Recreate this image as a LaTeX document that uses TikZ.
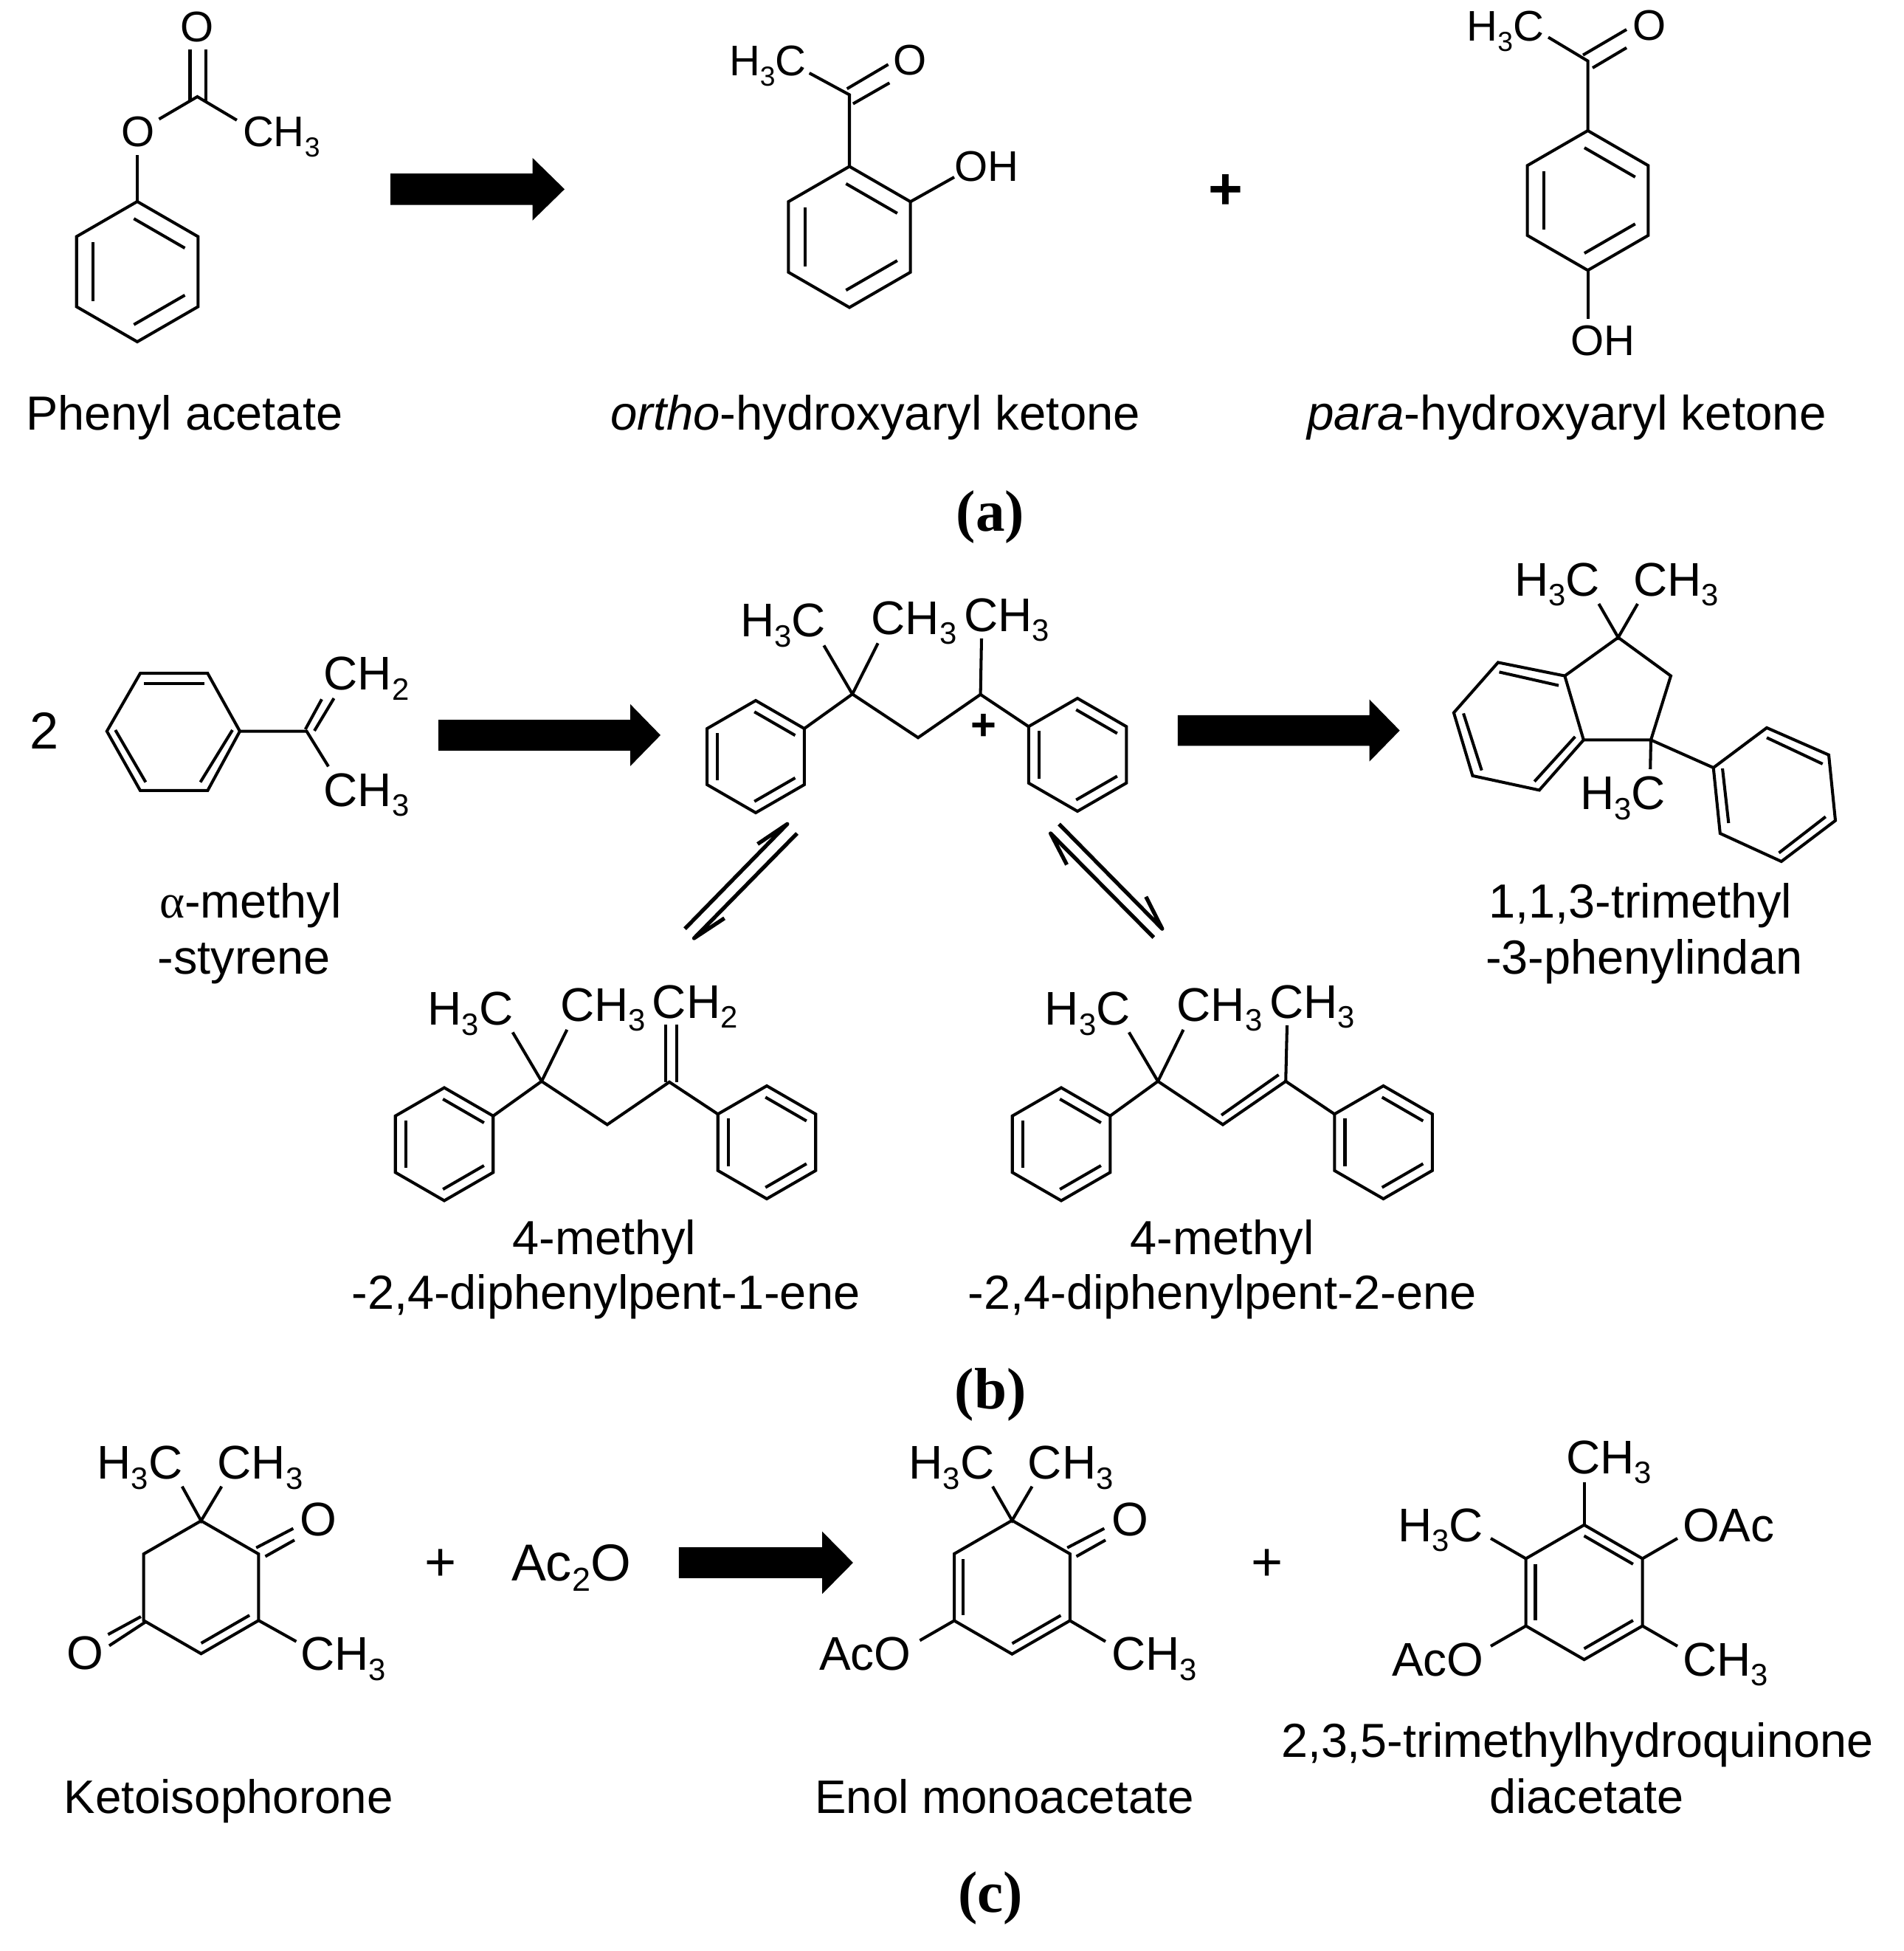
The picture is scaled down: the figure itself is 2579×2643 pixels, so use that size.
\documentclass[tikz,border=0pt]{standalone}
\usepackage{fontspec}
\setmainfont{Liberation Sans}
\newfontfamily\panelfont{Liberation Serif}
\usetikzlibrary{calc}

\tikzset{
  atoma/.style={anchor=base west, inner sep=0pt, xshift=-.05cm, font=\def\sbsize{10.6}\fontsize{16.5}{18}\selectfont},
  atomb/.style={anchor=base west, inner sep=0pt, xshift=-.06cm, font=\def\sbsize{11.9}\fontsize{18.2}{20}\selectfont},
  oxya/.style={inner sep=0pt, font=\fontsize{16.5}{18}\selectfont},
  oxyc/.style={inner sep=0pt, font=\fontsize{18.2}{20}\selectfont},
  caption/.style={anchor=base west, inner sep=0pt, xshift=-.04cm, font=\def\sbsize{12.8}\fontsize{18.45}{21}\selectfont},
  panel/.style={anchor=base, inner sep=0pt, font=\panelfont\bfseries\fontsize{22.5}{24}\selectfont},
  plusa/.style={inner sep=0pt, font=\bfseries\fontsize{22.8}{25}\selectfont},
  plusc/.style={inner sep=0pt, font=\fontsize{21}{24}\selectfont},
  eqm/.style={line width=1.5pt, line join=round}
}

% subscript of a group
\newcommand{\sbs}[1]{\raisebox{-3.9pt}{\fontsize{\sbsize}{\sbsize}\selectfont #1}}

% regular hexagon: name, centre x, y, radius, inner line distance, inner lines
\newcommand{\ringsix}[6]{
  \coordinate (#1) at (#2,#3);
  \foreach \k in {1,...,6} \coordinate (#1\k) at ($(#1)+({-150+60*\k}:#4)$);
  \draw (#11)--(#12)--(#13)--(#14)--(#15)--(#16)--cycle;
  \foreach \m in {#6}
    \draw ($(#1)+(\m:#5*#4)+(\m+90:.42*#4)$)--($(#1)+(\m:#5*#4)+(\m-90:.42*#4)$);
}

% block arrow: start x, middle y, head x, tip x, half shaft, half head
\newcommand{\fatarrow}[6]{
  \fill (#1,#2-#5)--(#3,#2-#5)--(#3,#2-#6)--(#4,#2)--(#3,#2+#6)--(#3,#2+#5)--(#1,#2+#5)--cycle;
}

\begin{document}
\begin{tikzpicture}[x=.01cm, y=-.01cm, line width=1.15pt]
\useasboundingbox (0,0) rectangle (2579,2643);

% (a) phenyl acetate
\ringsix{ph}{186}{368}{95}{.63}{-60,60,180}
\node[oxya] (phO) at (186.8,178.4) {O};
\node[oxya] (phOd) at (267.4,36.8) {O};
\node[atoma] (phMe) at (332,199) {CH\sbs{3}};
\foreach \n/\x/\y in {phA/186/210, phB/215.5/161.4, phC/267.4/131, phD/320.9/162.8,
  phE/257.5/67, phF/257.5/138, phG/278.9/67, phH/278.9/138}
  \coordinate (\n) at (\x,\y);
\draw (ph1)--(phA);
\draw (phB)--(phC)--(phD);
\draw (phE)--(phF);
\draw (phG)--(phH);
\node[caption] (phName) at (37,582.8) {Phenyl acetate};

\fatarrow{529}{256.3}{721.5}{765}{21.25}{42.5}

% ortho product
\ringsix{or}{1151}{321}{95.5}{.63}{-60,60,180}
\node[atoma] (orMe) at (991,103) {H\sbs{3}C};
\node[oxya] (orOd) at (1233,81.6) {O};
\node[atoma] (orOH) at (1296.6,246) {OH};
\foreach \n/\x/\y in {orC/1151/128.4, orA/1096.7/99, orB/1147.7/120.3, orD/1203.6/87.3,
  orE/1155.9/140.6, orF/1205.3/112.3, orG/1293/240}
  \coordinate (\n) at (\x,\y);
\draw (or1)--(orC)--(orA);
\draw (orB)--(orD);
\draw (orE)--(orF);
\draw (or2)--(orG);
\node[caption, font=\fontsize{18.55}{21}\selectfont] (orName) at (829,582.8) {\textit{ortho}-hydroxyaryl ketone};

\node[plusa] (plusA) at (1660.8,260) {+};

% para product
\ringsix{pa}{2151.5}{271.6}{94.6}{.63}{-60,60,180}
\node[atoma] (paMe) at (1990.4,55.7) {H\sbs{3}C};
\node[oxya] (paOd) at (2234.6,34.4) {O};
\node[atoma] (paOH) at (2131,481.4) {OH};
\foreach \n/\x/\y in {paC/2151.5/82.6, paA/2098/50.5, paB/2145/74.6, paD/2204/40,
  paE/2158/92, paF/2204/64.7, paG/2151.5/431.8}
  \coordinate (\n) at (\x,\y);
\draw (pa1)--(paC)--(paA);
\draw (paB)--(paD);
\draw (paE)--(paF);
\draw (pa4)--(paG);
\node[caption, font=\fontsize{18.65}{21}\selectfont] (paName) at (1773.4,582.8) {\textit{para}-hydroxyaryl ketone};

\node[panel] (capA) at (1342,719) {(a)};

% (b) alpha-methylstyrene
\node[caption, font=\fontsize{20}{22}\selectfont] (two) at (42,1014) {2};
\foreach \n/\x/\y in {msA/190/912.2, msB/281.4/912.2, msC/325/990.6, msD/281.4/1070.9,
  msE/190/1070.9, msF/144.8/990.6, msG/195/925.6, msH/277.3/925.6, msI/315/989,
  msJ/271.5/1059.6, msK/156.3/989, msL/197.4/1059.6, msM/415.5/990.6, msN/413.8/988,
  msO/436/947.3, msP/426/990, msQ/452.5/946, msR/445/1038.3}
  \coordinate (\n) at (\x,\y);
\draw (msA)--(msB)--(msC)--(msD)--(msE)--(msF)--cycle;
\draw (msG)--(msH);
\draw (msI)--(msJ);
\draw (msK)--(msL);
\draw (msC)--(msM)--(msR);
\draw (msN)--(msO);
\draw (msP)--(msQ);
\node[atomb] (msCH) at (442.6,934.3) {CH\sbs{2}};
\node[atomb] (msMe) at (442.6,1092) {CH\sbs{3}};
\node[caption] (msName) at (218,1243) {{\panelfont α}-methyl};
\node[caption] (msNameb) at (215.5,1319) {-styrene};

\fatarrow{594}{995.9}{854}{895}{20.85}{42}

% cation
\ringsix{ca}{1024}{1025}{76}{.68}{-60,60,180}
\ringsix{cb}{1460}{1022.5}{76.5}{.68}{-60,60,180}
\foreach \n/\x/\y in {caQ/1155/940.3, caR/1116.4/874.4, caS/1189.6/871.4, caT/1244/999.3,
  caU/1328.6/940.8, caV/1330/864.9}
  \coordinate (\n) at (\x,\y);
\draw (ca2)--(caQ)--(caT)--(caU)--(cb6);
\draw (caQ)--(caR);
\draw (caQ)--(caS);
\draw (caU)--(caV);
\node[atomb] (caMe) at (1007,862.7) {H\sbs{3}C};
\node[atomb] (caMeb) at (1184.7,859) {CH\sbs{3}};
\node[atomb] (caMec) at (1310.5,855) {CH\sbs{3}};
\node[inner sep=0pt, font=\bfseries\fontsize{17}{20}\selectfont] (caPlus) at (1332.7,985) {+};

\fatarrow{1595.8}{989.6}{1855.6}{1896.7}{20.8}{42}

% indane
\foreach \n/\x/\y in {inA/2192.7/863.6, inB/2264/915.6, inC/2237/1002.4, inD/2145.8/1002.4,
  inE/2120.3/915.6, inF/2029.9/897.4, inG/1969.9/965.5, inH/1995.4/1050.9, inI/2085.8/1070.4,
  inJ/2031.5/910.4, inK/2112/928.6, inL/1983/966.4, inM/2007.7/1043.6, inN/2079.2/1058.7,
  inO/2134.3/998, inP/2166.4/818, inQ/2219/818, inR/2236.2/1042,
  ipA/2321.7/1040, ipB/2394/985.9, ipC/2478/1022.7, ipD/2487/1111.6, ipE/2413.8/1167,
  ipF/2330.8/1129, ipG/2394/999.3, ipH/2469.7/1034.9, ipI/2334/1041, ipJ/2342.3/1115,
  ipK/2473.8/1106.4, ipL/2410.5/1155.4}
  \coordinate (\n) at (\x,\y);
\draw (inA)--(inB)--(inC)--(inD)--(inE)--cycle;
\draw (inE)--(inF)--(inG)--(inH)--(inI)--(inD);
\draw (inJ)--(inK);
\draw (inL)--(inM);
\draw (inN)--(inO);
\draw (inP)--(inA)--(inQ);
\draw (inC)--(inR);
\draw (inC)--(ipA);
\draw (ipA)--(ipB)--(ipC)--(ipD)--(ipE)--(ipF)--cycle;
\draw (ipG)--(ipH);
\draw (ipI)--(ipJ);
\draw (ipK)--(ipL);
\node[atomb] (inMe) at (2056.2,807.2) {H\sbs{3}C};
\node[atomb] (inMeb) at (2217.3,807.2) {CH\sbs{3}};
\node[atomb] (inMec) at (2145,1096.5) {H\sbs{3}C};
\node[caption] (inName) at (2019.2,1243) {1,1,3-trimethyl};
\node[caption] (inNameb) at (2015,1319) {-3-phenylindan};

% equilibrium arrows
\foreach \n/\x/\y in {eaA/1026.6/1143.4, eaB/1066.8/1116.3, eaC/928/1258.2, eaD/1080/1129,
  eaE/940.5/1271, eaF/981.6/1243.9, ebA/1445.6/1171.4, ebB/1423.6/1129, ebC/1563.3/1270,
  ebD/1435/1116.3, ebE/1574.8/1258.2, ebF/1552.8/1214.8}
  \coordinate (\n) at (\x,\y);
\draw[eqm] (eaA)--(eaB)--(eaC);
\draw[eqm] (eaD)--(eaE)--(eaF);
\draw[eqm] (ebA)--(ebB)--(ebC);
\draw[eqm] (ebD)--(ebE)--(ebF);

% pent-1-ene
\ringsix{da}{602}{1550}{76.5}{.68}{-60,60,180}
\ringsix{db}{1039}{1547.5}{76.5}{.68}{-60,60,180}
\foreach \n/\x/\y in {daQ/733.9/1464.8, daR/694.7/1398.5, daS/768.3/1394.9, daT/822.8/1523.5,
  daU/907/1465.8, daV/902.2/1388.3, daW/902.2/1466, daX/916.6/1388.3, daY/916.6/1466}
  \coordinate (\n) at (\x,\y);
\draw (da2)--(daQ)--(daT)--(daU)--(db6);
\draw (daQ)--(daR);
\draw (daQ)--(daS);
\draw (daV)--(daW);
\draw (daX)--(daY);
\node[atomb] (daMe) at (583.7,1388.3) {H\sbs{3}C};
\node[atomb] (daMeb) at (763.5,1383) {CH\sbs{3}};
\node[atomb] (daCH) at (887.9,1379) {CH\sbs{2}};
\node[caption] (daName) at (696.6,1699.5) {4-methyl};
\node[caption] (daNameb) at (478.4,1773.5) {-2,4-diphenylpent-1-ene};

% pent-2-ene
\ringsix{ea}{1438}{1550}{76.5}{.68}{-60,60,180}
\ringsix{eb}{1874.5}{1547.5}{76.5}{.68}{-60,60,180}
\foreach \n/\x/\y in {eeQ/1569/1464.8, eeR/1529.8/1398.5, eeS/1603.5/1394.9, eeT/1657/1523.5,
  eeU/1742.2/1464.8, eeV/1655/1510.7, eeW/1732.6/1456, eeX/1744/1389}
  \coordinate (\n) at (\x,\y);
\draw (ea2)--(eeQ)--(eeT)--(eeU)--(eb6);
\draw (eeQ)--(eeR);
\draw (eeQ)--(eeS);
\draw (eeV)--(eeW);
\draw (eeU)--(eeX);
\node[atomb] (eeMe) at (1419.8,1388.3) {H\sbs{3}C};
\node[atomb] (eeMeb) at (1598.7,1383) {CH\sbs{3}};
\node[atomb] (eeMec) at (1724,1379) {CH\sbs{3}};
\node[caption] (eeName) at (1533.6,1699.5) {4-methyl};
\node[caption] (eeNameb) at (1313.6,1773.5) {-2,4-diphenylpent-2-ene};

\node[panel] (capB) at (1342,1908) {(b)};

% (c) ketoisophorone
\ringsix{ke}{272.5}{2150.2}{90}{.73}{60}
\foreach \n/\x/\y in {keA/347.2/2096.7, keB/397.4/2070.6, keC/359.5/2108.5, keD/399/2086.3,
  keE/401.5/2223.7, keF/190.9/2190, keG/146.4/2214.2, keH/197.5/2197, keI/148/2229.4,
  keJ/246.8/2013.7, keK/300.3/2013.7}
  \coordinate (\n) at (\x,\y);
\draw (keA)--(keB);
\draw (keC)--(keD);
\draw (ke3)--(keE);
\draw (keF)--(keG);
\draw (keH)--(keI);
\draw (keJ)--(ke1)--(keK);
\node[oxyc] (keO) at (431,2058.8) {O};
\node[oxyc] (keOb) at (115.2,2239.8) {O};
\node[atomb] (keMe) at (135.7,2003.3) {H\sbs{3}C};
\node[atomb] (keMeb) at (298.6,2003.3) {CH\sbs{3}};
\node[atomb] (keMec) at (411.4,2262.6) {CH\sbs{3}};
\node[caption, font=\fontsize{18.1}{21}\selectfont] (keName) at (88.9,2456.9) {Ketoisophorone};

\node[plusc] (plusB) at (597,2120) {+};
\node[caption, font=\def\sbsize{12.8}\fontsize{20}{22}\selectfont] (acet) at (695,2141.7) {Ac\sbs{2}O};

\fatarrow{919.8}{2117}{1114}{1155.9}{20.85}{42.4}

% enol monoacetate
\ringsix{en}{1371.4}{2150.2}{90.5}{.73}{60,180}
\foreach \n/\x/\y in {enA/1446.2/2096.7, enB/1496.3/2070.6, enC/1458.5/2108.5, enD/1498/2086.3,
  enE/1498/2223.7, enF/1246.4/2222.3, enJ/1345/2013.7, enK/1398.5/2013.7}
  \coordinate (\n) at (\x,\y);
\draw (enA)--(enB);
\draw (enC)--(enD);
\draw (en3)--(enE);
\draw (en5)--(enF);
\draw (enJ)--(en1)--(enK);
\node[oxyc] (enO) at (1530.9,2058.8) {O};
\node[atomb] (enMe) at (1235.7,2003.3) {H\sbs{3}C};
\node[atomb] (enMeb) at (1396.9,2003.3) {CH\sbs{3}};
\node[atomb] (enMec) at (1510.3,2262.6) {CH\sbs{3}};
\node[atomb] (enAc) at (1114,2262.6) {AcO};
\node[caption, font=\fontsize{18.1}{21}\selectfont] (enName) at (1106.5,2456.9) {Enol monoacetate};

\node[plusc] (plusC) at (1717.5,2120) {+};

% trimethylhydroquinone diacetate
\ringsix{tm}{2146.6}{2157}{91.2}{.725}{-60,60,180}
\foreach \n/\x/\y in {tmA/2146.6/2008, tmB/2020/2084, tmC/2273/2084, tmD/2020/2230, tmE/2273/2230}
  \coordinate (\n) at (\x,\y);
\draw (tm1)--(tmA);
\draw (tm6)--(tmB);
\draw (tm2)--(tmC);
\draw (tm5)--(tmD);
\draw (tm3)--(tmE);
\node[atomb] (tmMe) at (2126,1996) {CH\sbs{3}};
\node[atomb] (tmMeb) at (1898,2088) {H\sbs{3}C};
\node[atomb] (tmAc) at (2284,2088) {OAc};
\node[atomb] (tmAcb) at (1890,2270) {AcO};
\node[atomb] (tmMec) at (2284,2270) {CH\sbs{3}};
\node[caption, font=\fontsize{18.4}{21}\selectfont] (tmName) at (1738,2380) {2,3,5-trimethylhydroquinone};
\node[caption] (tmNameb) at (2020,2456.9) {diacetate};

\node[panel] (capC) at (1342,2590) {(c)};
\end{tikzpicture}
\end{document}
